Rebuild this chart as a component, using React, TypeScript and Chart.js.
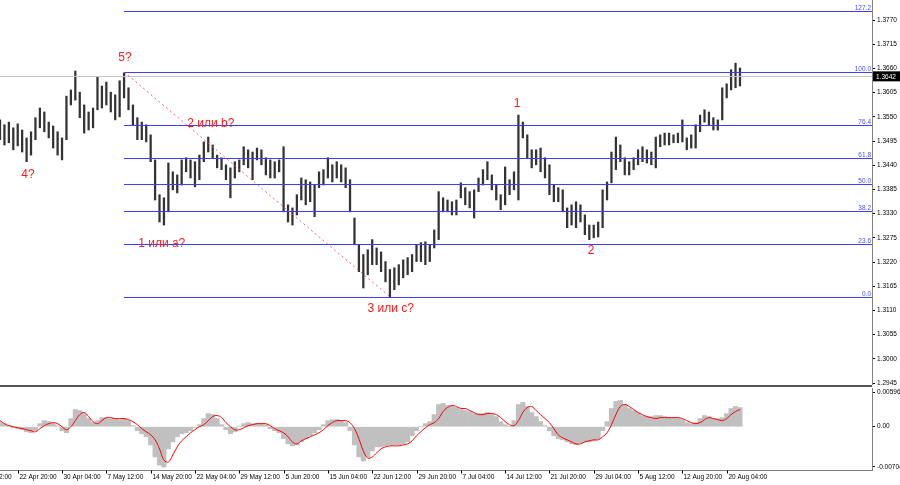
import { useEffect, useRef } from "react";
import { Chart, registerables } from "chart.js";
import type { ChartConfiguration, Plugin } from "chart.js";

Chart.register(...registerables);

// H4 bars (index = bar number from the left edge)
const highs = [
  1.3543, 1.3532, 1.3538, 1.3525, 1.3534, 1.352, 1.3502, 1.3516, 1.3548, 1.357,
  1.3561, 1.3538, 1.3529, 1.3516, 1.3502, 1.3597, 1.3611, 1.3654, 1.3606, 1.3577,
  1.3561, 1.357, 1.3641, 1.362, 1.3629, 1.3606, 1.36, 1.3632, 1.365, 1.3616,
  1.3577, 1.3548, 1.3538, 1.3532, 1.3509, 1.3452, 1.3373, 1.3366, 1.3445, 1.3425,
  1.3418, 1.3452, 1.3457, 1.3452, 1.3448, 1.3463, 1.3493, 1.3504, 1.3486, 1.3463,
  1.3457, 1.3441, 1.3434, 1.3448, 1.3452, 1.3482, 1.3475, 1.347, 1.3479, 1.3475,
  1.3457, 1.3452, 1.3448, 1.3452, 1.3482, 1.335, 1.3343, 1.3373, 1.3411, 1.3407,
  1.3402, 1.3395, 1.3425, 1.343, 1.3457, 1.3441, 1.3448, 1.3441, 1.3434, 1.3407,
  1.332, 1.3259, 1.3237, 1.3248, 1.3271, 1.3252, 1.3243, 1.3221, 1.3203, 1.3207,
  1.3214, 1.3225, 1.323, 1.3237, 1.3259, 1.3264, 1.3266, 1.3259, 1.3293, 1.338,
  1.3366, 1.3361, 1.3357, 1.3361, 1.34, 1.3389, 1.338, 1.3384, 1.3411, 1.343,
  1.3448, 1.3418, 1.3395, 1.3373, 1.3436, 1.3407, 1.3425, 1.3554, 1.3538, 1.3509,
  1.3475, 1.3475, 1.3479, 1.3457, 1.3441, 1.3395, 1.3389, 1.3384, 1.3343, 1.335,
  1.3357, 1.335, 1.3327, 1.3304, 1.3304, 1.3311, 1.3384, 1.3402, 1.347, 1.3504,
  1.3486, 1.3457, 1.3448, 1.3457, 1.3475, 1.3482, 1.3475, 1.347, 1.3504, 1.3509,
  1.3513, 1.3513, 1.3509, 1.3513, 1.3543, 1.3502, 1.3509, 1.3532, 1.3554, 1.3566,
  1.3561, 1.3548, 1.3543, 1.3616, 1.3625, 1.3657, 1.3672, 1.3661,
];
const lows = [
  1.3498, 1.3486, 1.3491, 1.3475, 1.3484, 1.347, 1.3448, 1.3463, 1.3498, 1.3525,
  1.3516, 1.3502, 1.3479, 1.3463, 1.3452, 1.3498, 1.3577, 1.3588, 1.3548, 1.3513,
  1.352, 1.3525, 1.3566, 1.357, 1.3577, 1.3561, 1.3543, 1.355, 1.3593, 1.3566,
  1.3532, 1.3498, 1.3498, 1.3493, 1.3448, 1.3361, 1.3311, 1.3304, 1.3334, 1.3384,
  1.3377, 1.3395, 1.3425, 1.3411, 1.3391, 1.3407, 1.3448, 1.347, 1.3457, 1.3434,
  1.343, 1.3407, 1.3366, 1.3411, 1.3425, 1.3441, 1.3434, 1.3407, 1.3452, 1.3441,
  1.3418, 1.3411, 1.3411, 1.3425, 1.3334, 1.3311, 1.3304, 1.3327, 1.3361, 1.335,
  1.3357, 1.3323, 1.3389, 1.3395, 1.3411, 1.3402, 1.3411, 1.3402, 1.3389, 1.3334,
  1.3259, 1.3198, 1.3161, 1.3191, 1.3214, 1.3214, 1.3198, 1.3175, 1.3141, 1.3157,
  1.3168, 1.3184, 1.3191, 1.3198, 1.3221, 1.3221, 1.3214, 1.3221, 1.3252, 1.3271,
  1.3334, 1.3334, 1.3327, 1.3327, 1.3366, 1.335, 1.3343, 1.332, 1.338, 1.3395,
  1.3407, 1.3384, 1.3361, 1.3339, 1.335, 1.3373, 1.3384, 1.3361, 1.3502, 1.3457,
  1.3434, 1.3441, 1.3425, 1.3411, 1.3373, 1.3357, 1.3357, 1.3334, 1.3298, 1.3304,
  1.3298, 1.3311, 1.3282, 1.3271, 1.3275, 1.3277, 1.3298, 1.3361, 1.34, 1.343,
  1.3448, 1.3418, 1.3418, 1.343, 1.3441, 1.3448, 1.3445, 1.3441, 1.3434, 1.3482,
  1.3486, 1.3486, 1.3491, 1.3491, 1.3493, 1.3475, 1.3479, 1.3479, 1.3516, 1.3538,
  1.3532, 1.352, 1.352, 1.3543, 1.3593, 1.3611, 1.3616, 1.362,
];

// MACD histogram and signal line
const macdHist = [
  0.00071, 0.00053, 0.00018, -0.00018, -0.00035, -0.00053, -0.00089, -0.00106, -0.00071, 0.00053,
  0.00106, 0.00089, 0.00053, 0.00018, -0.00071, -0.00106, 0.00142, 0.00301, 0.00283, 0.0023,
  0.00142, 0.00071, 0.00106, 0.00159, 0.00159, 0.00142, 0.00142, 0.00124, 0.00142, 0.00106,
  0.00018, -0.00071, -0.00124, -0.00177, -0.00319, -0.00531, -0.00673, -0.00708, -0.00389, -0.00266,
  -0.00177, -0.00124, -0.00106, -0.00071, -0.00018, 0.00035, 0.00142, 0.0023, 0.00212, 0.00142,
  0.00035, -0.00053, -0.00124, -0.00089, 0, 0.00053, 0.00071, 0.00053, 0.00053, 0.00053,
  0.00035, -0.00035, -0.00071, -0.00106, -0.00212, -0.00301, -0.00336, -0.00319, -0.00266, -0.00212,
  -0.00159, -0.00106, -0.00053, 0.00035, 0.00106, 0.00124, 0.00124, 0.00106, 0.00071, -0.00071,
  -0.00319, -0.00531, -0.00602, -0.00531, -0.00425, -0.00354, -0.00354, -0.00336, -0.00319, -0.00319,
  -0.00319, -0.00301, -0.00266, -0.00159, -0.00071, 0, 0.00053, 0.00089, 0.00212, 0.00389,
  0.00407, 0.00372, 0.00354, 0.00336, 0.00301, 0.00283, 0.00266, 0.0023, 0.0023, 0.0023,
  0.00248, 0.00212, 0.00177, 0.00089, 0.00035, 0, 0.00106, 0.00389, 0.00425, 0.00354,
  0.00248, 0.00177, 0.00089, 0.00018, -0.00071, -0.00159, -0.00212, -0.0023, -0.00266, -0.00301,
  -0.00319, -0.00283, -0.00266, -0.00266, -0.00248, -0.00212, -0.00071, 0.00089, 0.00319, 0.00443,
  0.0046, 0.00389, 0.00319, 0.00283, 0.00248, 0.00195, 0.00177, 0.00177, 0.00195, 0.00195,
  0.00177, 0.00159, 0.00159, 0.00142, 0.00124, 0.00071, 0.00053, 0.00071, 0.00142, 0.00195,
  0.00177, 0.00142, 0.00142, 0.00159, 0.0023, 0.00319, 0.00354, 0.00336,
];
const macdSignal = [
  0.00106, 0.00053, 0.00018, 0, -0.00018, -0.00035, -0.00053, -0.00071, -0.00089, -0.00035,
  0.00018, 0.00053, 0.00071, 0.00053, 0, -0.00053, 0, 0.00106, 0.00212, 0.00248,
  0.00177, 0.00089, 0.00053, 0.00106, 0.00159, 0.00159, 0.00142, 0.00142, 0.00142, 0.00124,
  0.00089, 0.00035, -0.00035, -0.00089, -0.00142, -0.0023, -0.00389, -0.00584, -0.0062, -0.00496,
  -0.00354, -0.00248, -0.00177, -0.00106, -0.00053, 0, 0.00035, 0.00106, 0.00177, 0.00195,
  0.00159, 0.00071, 0, -0.00053, -0.00053, -0.00018, 0.00018, 0.00035, 0.00053, 0.00053,
  0.00053, 0.00018, -0.00035, -0.00071, -0.00106, -0.00177, -0.00266, -0.00301, -0.00248, -0.00212,
  -0.00177, -0.00142, -0.00106, -0.00053, 0.00018, 0.00071, 0.00106, 0.00106, 0.00106, 0.00071,
  -0.00035, -0.00212, -0.00425, -0.00549, -0.00531, -0.0046, -0.00389, -0.00354, -0.00336, -0.00336,
  -0.00336, -0.00319, -0.00301, -0.00248, -0.00159, -0.00089, -0.00018, 0.00035, 0.00071, 0.00142,
  0.00266, 0.00336, 0.00372, 0.00354, 0.00319, 0.00319, 0.00283, 0.00248, 0.00212, 0.00212,
  0.0023, 0.0023, 0.00212, 0.00159, 0.00089, 0.00035, 0.00018, 0.00106, 0.00248, 0.00336,
  0.00354, 0.00283, 0.00212, 0.00142, 0.00071, -0.00035, -0.00142, -0.00195, -0.0023, -0.00266,
  -0.00301, -0.00301, -0.00266, -0.00248, -0.0023, -0.0023, -0.00177, -0.00106, 0.00035, 0.00212,
  0.00354, 0.00389, 0.00354, 0.00301, 0.00248, 0.00212, 0.00177, 0.00159, 0.00142, 0.00159,
  0.00159, 0.00159, 0.00159, 0.00159, 0.00142, 0.00106, 0.00071, 0.00053, 0.00071, 0.00124,
  0.00159, 0.00142, 0.00124, 0.00106, 0.00142, 0.00212, 0.00266, 0.00301,
];

const PRICE_TICKS = [
  1.2945, 1.3, 1.3055, 1.311, 1.3165, 1.322, 1.3275, 1.333, 1.3385, 1.344, 1.3495, 1.355, 1.3605,
  1.366, 1.3715, 1.377,
];
const MACD_TICKS = [-0.00704, 0, 0.00596];
const DATE_LABELS = [
  "15 Apr 12:00", "22 Apr 20:00", "30 Apr 04:00", "7 May 12:00", "14 May 20:00", "22 May 04:00",
  "29 May 12:00", "5 Jun 20:00", "15 Jun 04:00", "22 Jun 12:00", "29 Jun 20:00", "7 Jul 04:00",
  "14 Jul 12:00", "21 Jul 20:00", "29 Jul 04:00", "5 Aug 12:00", "12 Aug 20:00", "20 Aug 04:00",
];
const DATE_FIRST = -6; // bar index of first date label
const DATE_STEP = 10;

// fibonacci grid from the "5?" high to the "3 или c?" low
const FIB_LEVELS = [0, 23.6, 38.2, 50, 61.8, 76.4, 100, 127.2];
const FIB_HIGH = 1.3652;
const FIB_LOW = 1.3141;
const FIB_FROM = 28;
const FIB_TO = 88;
const BID = 1.3642;

const waveTexts = ["5?", "4?", "2 или b?", "1 или a?", "3 или c?", "1", "2"];
const waveIdx = [28.2, 6.3, 47.6, 36.5, 88.2, 116.7, 133.4];
const wavePrice = [1.3684, 1.3418, 1.3534, 1.3262, 1.3114, 1.3579, 1.3246];

const X_MIN = 0;
const X_MAX = 196.8;
const AXIS_W = 28;
const FONT = "'Liberation Sans', Arial, sans-serif";

// keep the plot edge-to-edge: drop the padding Chart.js adds for tick labels
const fitAxis = (s: any) => {
  s.width = AXIS_W;
  s.paddingTop = 0;
  s.paddingBottom = 0;
};

const priceOverlay: Plugin<"bar"> = {
  id: "priceOverlay",
  afterDatasetsDraw(chart) {
    const { ctx, chartArea, scales } = chart;
    const xs = scales.x;
    const ys = scales.y;
    ctx.save();

    const by = Math.round(ys.getPixelForValue(BID)) + 0.5;
    ctx.strokeStyle = "#c4c4c4";
    ctx.lineWidth = 1;
    ctx.beginPath();
    ctx.moveTo(chartArea.left, by);
    ctx.lineTo(chartArea.right, by);
    ctx.stroke();

    const x0 = xs.getPixelForValue(FIB_FROM);
    ctx.font = `6.5px ${FONT}`;
    ctx.textAlign = "right";
    ctx.textBaseline = "bottom";
    FIB_LEVELS.forEach((lvl) => {
      const p = FIB_LOW + ((FIB_HIGH - FIB_LOW) * lvl) / 100;
      const y = Math.round(ys.getPixelForValue(p)) + 0.5;
      ctx.strokeStyle = "#3d3dff";
      ctx.lineWidth = 1.2;
      ctx.beginPath();
      ctx.moveTo(x0, y);
      ctx.lineTo(chartArea.right, y);
      ctx.stroke();
      ctx.fillStyle = "#4b4bff";
      ctx.fillText(lvl.toFixed(1), chartArea.right - 1, y - 0.5);
    });

    ctx.lineWidth = 1;
    ctx.setLineDash([2, 3]);
    ctx.strokeStyle = "rgba(255,70,70,0.85)";
    ctx.beginPath();
    ctx.moveTo(x0, ys.getPixelForValue(FIB_HIGH));
    ctx.lineTo(xs.getPixelForValue(FIB_TO), ys.getPixelForValue(FIB_LOW));
    ctx.stroke();
    ctx.setLineDash([]);

    ctx.font = `12px ${FONT}`;
    ctx.fillStyle = "#ff1a1a";
    ctx.textAlign = "center";
    ctx.textBaseline = "middle";
    waveTexts.forEach((t, i) => {
      ctx.fillText(t, xs.getPixelForValue(waveIdx[i]), ys.getPixelForValue(wavePrice[i]));
    });
    ctx.restore();
  },
  afterDraw(chart) {
    const { ctx, chartArea, scales } = chart;
    const y = scales.y.getPixelForValue(BID);
    ctx.save();
    ctx.fillStyle = "#000";
    ctx.fillRect(chartArea.right + 1, y - 5, AXIS_W - 1, 10);
    ctx.fillStyle = "#fff";
    ctx.font = `6.5px ${FONT}`;
    ctx.textBaseline = "middle";
    ctx.fillText(BID.toFixed(4), chartArea.right + 4, y + 0.5);
    ctx.restore();
  },
};

const macdOverlay: Plugin<"bar"> = {
  id: "macdOverlay",
  afterDraw(chart) {
    const { ctx, chartArea, scales } = chart;
    const xs = scales.x;
    ctx.save();
    const b = Math.round(chartArea.bottom) + 0.5;
    ctx.strokeStyle = "#808080";
    ctx.lineWidth = 1;
    ctx.beginPath();
    ctx.moveTo(0, b);
    ctx.lineTo(chartArea.right, b);
    ctx.stroke();
    ctx.font = `6.5px ${FONT}`;
    ctx.fillStyle = "#000";
    ctx.textAlign = "left";
    ctx.textBaseline = "middle";
    DATE_LABELS.forEach((d, k) => {
      const x = Math.round(xs.getPixelForValue(DATE_FIRST + k * DATE_STEP)) + 0.5;
      ctx.strokeStyle = "#000";
      ctx.beginPath();
      ctx.moveTo(x, b);
      ctx.lineTo(x, b + 3);
      ctx.stroke();
      ctx.fillText(d, x + 1, b + 7);
    });
    ctx.restore();
  },
};

const tickFont = { family: FONT, size: 6.5 };

export default function App() {
  const priceRef = useRef<HTMLCanvasElement | null>(null);
  const macdRef = useRef<HTMLCanvasElement | null>(null);

  useEffect(() => {
    const priceCfg: ChartConfiguration<"bar", any[], number> = {
      type: "bar",
      data: {
        datasets: [
          {
            data: highs.map((h, i) => ({ x: i, y: [lows[i], h] })),
            backgroundColor: "#333",
            borderWidth: 0,
            barThickness: 1.6,
          } as any,
        ],
      },
      options: {
        animation: false,
        responsive: false,
        layout: { padding: 0 },
        plugins: { legend: { display: false }, tooltip: { enabled: false } },
        scales: {
          x: { type: "linear", min: X_MIN, max: X_MAX, offset: false, display: false },
          y: {
            position: "right",
            min: 1.29405,
            max: 1.38155,
            afterBuildTicks: (s: any) => {
              s.ticks = PRICE_TICKS.map((v) => ({ value: v }));
            },
            afterFit: fitAxis,
            ticks: {
              autoSkip: false,
              font: tickFont,
              color: "#000",
              padding: 2,
              callback: (v: any) => Number(v).toFixed(4),
            },
            grid: { drawOnChartArea: false, tickLength: 3, color: "#000" },
            border: { display: true, color: "#808080" },
          },
        },
      },
      plugins: [priceOverlay],
    };

    const macdCfg: ChartConfiguration<"bar", any[], number> = {
      type: "bar",
      data: {
        datasets: [
          {
            type: "line",
            data: macdSignal.map((v, i) => ({ x: i, y: v })),
            borderColor: "#ff0000",
            borderWidth: 1,
            pointRadius: 0,
            tension: 0.4,
          } as any,
          {
            data: macdHist.map((v, i) => ({ x: i, y: v })),
            backgroundColor: "#c0c0c0",
            borderWidth: 0,
            barPercentage: 1,
            categoryPercentage: 1,
          } as any,
        ],
      },
      options: {
        animation: false,
        responsive: false,
        layout: { padding: { bottom: 15 } },
        plugins: { legend: { display: false }, tooltip: { enabled: false } },
        scales: {
          x: { type: "linear", min: X_MIN, max: X_MAX, offset: false, display: false },
          y: {
            position: "right",
            min: -0.00759,
            max: 0.00678,
            afterBuildTicks: (s: any) => {
              s.ticks = MACD_TICKS.map((v) => ({ value: v }));
            },
            afterFit: fitAxis,
            ticks: {
              autoSkip: false,
              font: tickFont,
              color: "#000",
              padding: 2,
              callback: (v: any) => (Number(v) === 0 ? "0.00" : Number(v).toFixed(5)),
            },
            grid: { drawOnChartArea: false, tickLength: 3, color: "#000" },
            border: { display: true, color: "#808080" },
          },
        },
      },
      plugins: [macdOverlay],
    };

    const c1 = new Chart(priceRef.current!, priceCfg);
    const c2 = new Chart(macdRef.current!, macdCfg as any);
    return () => {
      c1.destroy();
      c2.destroy();
    };
  }, []);

  return (
    <div style={{ position: "absolute", left: 0, top: 0, width: 900, height: 485, background: "#fff" }}>
      <canvas ref={priceRef} width={900} height={385} style={{ position: "absolute", left: 0, top: 0 }} />
      <div style={{ position: "absolute", left: 0, top: 385, width: 872, height: 2, background: "#555" }} />
      <canvas ref={macdRef} width={900} height={97} style={{ position: "absolute", left: 0, top: 388 }} />
    </div>
  );
}
